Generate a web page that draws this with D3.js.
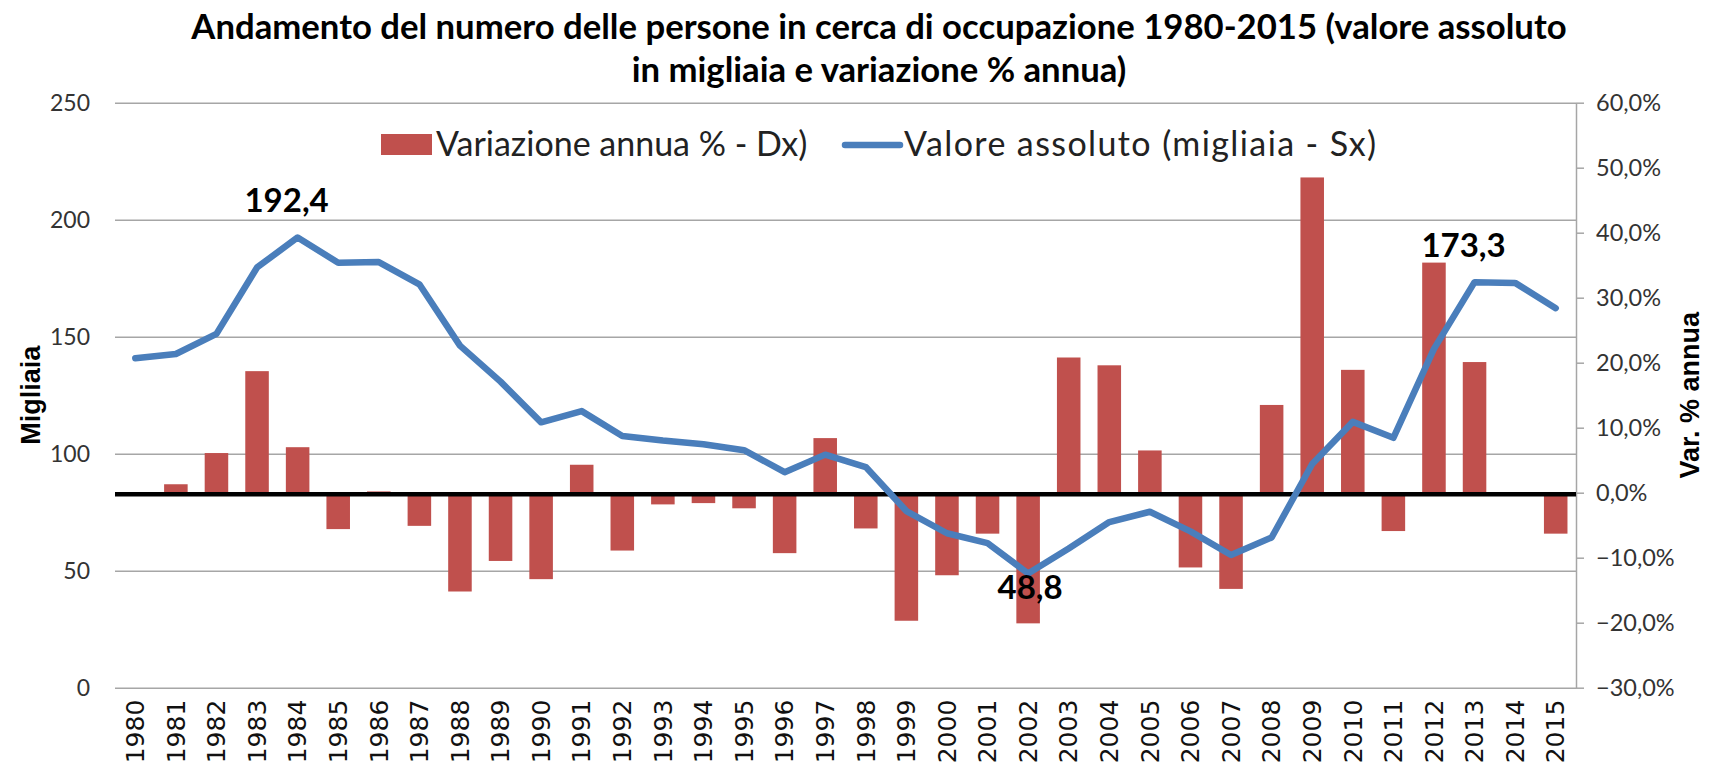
<!DOCTYPE html>
<html>
<head>
<meta charset="utf-8">
<script src="https://cdn.jsdelivr.net/npm/d3@7"></script>
<style>
  body { margin: 0; background: #fff; }
  svg { display: block; }
</style>
</head>
<body>
<svg id="chart" width="1716" height="772"></svg>
<script>
// data
const years = [1980, 1981, 1982, 1983, 1984, 1985, 1986, 1987, 1988, 1989,
    1990, 1991, 1992, 1993, 1994, 1995, 1996, 1997, 1998, 1999,
    2000, 2001, 2002, 2003, 2004, 2005, 2006, 2007, 2008, 2009,
    2010, 2011, 2012, 2013, 2014, 2015];

// valore assoluto, migliaia (asse Sx)
const valoreAssoluto = [140.8, 142.6, 151.2, 179.6, 192.4, 181.6, 181.9, 172.4, 146.2, 130.8,
    113.4, 118.2, 107.6, 105.6, 104.0, 101.5, 92.1, 99.6, 94.3, 75.5,
    66.0, 61.8, 48.8, 59.5, 70.8, 75.2, 66.8, 56.7, 64.2, 95.6,
    113.6, 106.8, 144.8, 173.3, 173.0, 162.2];

// variazione annua % (asse Dx)
const variazioneAnnua = [null, 1.3, 6.1, 18.7, 7.0, -5.6, 0.2, -5.1, -15.2, -10.5,
    -13.3, 4.3, -8.9, -1.8, -1.6, -2.4, -9.3, 8.4, -5.5, -19.7,
    -12.7, -6.3, -20.1, 20.8, 19.6, 6.5, -11.5, -14.8, 13.5, 48.5,
    18.9, -5.9, 35.4, 20.1, -0.3, -6.3];

const leftTicks = [0, 50, 100, 150, 200, 250];
const rightTicks = [-30, -20, -10, 0, 10, 20, 30, 40, 50, 60];

// highlighted values
const callouts = [
    { year: 1984, text: '192,4', pos: 'above' },
    { year: 2013, text: '173,3', pos: 'above' },
    { year: 2002, text: '48,8', pos: 'below' }
];

const titleLines = [
    'Andamento del numero delle persone in cerca di occupazione 1980-2015 (valore assoluto',
    'in migliaia e variazione % annua)'
];

const RED = '#C0504D';
const BLUE = '#4A7EBB';
const GRID = '#a6a6a6';
const SANS = 'Lato, "Open Sans", sans-serif';

const plot = { left: 115, right: 1576, top: 102.7, bottom: 687.7 };

const svg = d3.select('#chart');

const x = d3.scaleBand()
    .domain(years)
    .range([plot.left, plot.right])
    .paddingInner(0.42)
    .paddingOuter(0.21);

const yLeft = d3.scaleLinear().domain([0, 250]).range([plot.bottom, plot.top]);
const yRight = d3.scaleLinear().domain([-30, 60]).range([plot.bottom, plot.top]);

const cx = d => x(d) + x.bandwidth() / 2;

// gridlines from the left axis
const gridAxis = d3.axisLeft(yLeft)
    .tickValues(leftTicks)
    .tickSize(-(plot.right - plot.left))
    .tickPadding(25)
    .tickFormat(d3.format('d'));

const gridG = svg.append('g')
    .attr('transform', `translate(${plot.left},0)`)
    .call(gridAxis);
gridG.select('.domain').remove();
gridG.selectAll('.tick line')
    .attr('stroke', GRID)
    .attr('stroke-width', 1.5);
gridG.selectAll('.tick text')
    .attr('font-family', SANS)
    .attr('font-size', 23)
    .attr('fill', '#333');

// right axis (percent)
const fmtPct = d => d3.format('.1f')(d).replace('.', ',') + '%';
const rightAxis = d3.axisRight(yRight)
    .tickValues(rightTicks)
    .tickSize(8)
    .tickSizeOuter(0)
    .tickPadding(12)
    .tickFormat(fmtPct);

const rightG = svg.append('g')
    .attr('transform', `translate(${plot.right},0)`)
    .call(rightAxis);
rightG.select('.domain').attr('stroke', GRID).attr('stroke-width', 1.5);
rightG.selectAll('.tick line').attr('stroke', GRID).attr('stroke-width', 1.5);
rightG.selectAll('.tick text')
    .attr('font-family', SANS)
    .attr('font-size', 23.5)
    .attr('fill', '#333');

// year labels, rotated
const xAxis = d3.axisBottom(x).tickSize(0).tickPadding(0);
const xG = svg.append('g')
    .attr('transform', `translate(0,${plot.bottom})`)
    .call(xAxis);
xG.select('.domain').remove();
xG.selectAll('.tick text')
    .attr('font-family', '"DejaVu Sans", Verdana, sans-serif')
    .attr('font-size', 25)
    .attr('fill', '#111')
    .attr('transform', 'rotate(-90)')
    .attr('text-anchor', 'end')
    .attr('x', -12)
    .attr('y', 0)
    .attr('dy', '0.35em');

// bars
const barData = years.map((y, i) => ({ year: y, v: variazioneAnnua[i] }))
    .filter(d => d.v !== null);

svg.append('g')
    .selectAll('rect')
    .data(barData)
    .enter()
    .append('rect')
    .attr('x', d => x(d.year))
    .attr('width', x.bandwidth())
    .attr('y', d => yRight(Math.max(0, d.v)))
    .attr('height', d => Math.abs(yRight(d.v) - yRight(0)))
    .attr('fill', RED);

// zero line
svg.append('line')
    .attr('x1', plot.left)
    .attr('x2', plot.right)
    .attr('y1', yRight(0) + 1.5)
    .attr('y2', yRight(0) + 1.5)
    .attr('stroke', '#000')
    .attr('stroke-width', 4.5);

// value line
const lineData = years.map((y, i) => ({ year: y, v: valoreAssoluto[i] }));
const line = d3.line()
    .x(d => cx(d.year))
    .y(d => yLeft(d.v));

svg.append('path')
    .datum(lineData)
    .attr('d', line)
    .attr('fill', 'none')
    .attr('stroke', BLUE)
    .attr('stroke-width', 6.5)
    .attr('stroke-linejoin', 'round')
    .attr('stroke-linecap', 'round');

// callout labels
svg.append('g')
    .selectAll('text')
    .data(callouts)
    .enter()
    .append('text')
    .attr('x', d => cx(d.year) + (d.pos === 'above' ? -11 : 2))
    .attr('y', d => {
        const v = valoreAssoluto[years.indexOf(d.year)];
        return d.pos === 'above' ? yLeft(v) - 25 : yLeft(v) + 25;
    })
    .attr('text-anchor', 'middle')
    .attr('font-family', SANS)
    .attr('font-weight', 'bold')
    .attr('font-size', 33)
    .attr('fill', '#000')
    .text(d => d.text);

// title
svg.append('g')
    .selectAll('text')
    .data(titleLines)
    .enter()
    .append('text')
    .attr('x', 879)
    .attr('y', (d, i) => 39 + i * 43)
    .attr('text-anchor', 'middle')
    .attr('font-family', SANS)
    .attr('font-weight', 'bold')
    .attr('font-size', 34.7)
    .attr('fill', '#000')
    .text(d => d);

// axis titles
svg.append('text')
    .attr('transform', `translate(31,${(plot.top + plot.bottom) / 2}) rotate(-90)`)
    .attr('text-anchor', 'middle')
    .attr('dy', '0.35em')
    .attr('font-family', '"Liberation Sans", Arial, sans-serif')
    .attr('font-weight', 'bold')
    .attr('font-size', 27)
    .text('Migliaia');

svg.append('text')
    .attr('transform', `translate(1690,${(plot.top + plot.bottom) / 2}) rotate(-90)`)
    .attr('text-anchor', 'middle')
    .attr('dy', '0.35em')
    .attr('font-family', '"Liberation Sans", Arial, sans-serif')
    .attr('font-weight', 'bold')
    .attr('font-size', 27)
    .text('Var. % annua');

// legend
const legend = svg.append('g').attr('font-family', SANS).attr('font-size', 34).attr('fill', '#222');

legend.append('rect')
    .attr('x', 381)
    .attr('y', 134)
    .attr('width', 51)
    .attr('height', 21)
    .attr('fill', RED);
legend.append('text')
    .attr('x', 436)
    .attr('y', 156)
    .text('Variazione annua % - Dx)');

legend.append('line')
    .attr('x1', 845)
    .attr('x2', 900)
    .attr('y1', 145)
    .attr('y2', 145)
    .attr('stroke', BLUE)
    .attr('stroke-width', 6.5)
    .attr('stroke-linecap', 'round');
legend.append('text')
    .attr('x', 904)
    .attr('y', 156)
    .attr('letter-spacing', 1.4)
    .text('Valore assoluto (migliaia - Sx)');
</script>
</body>
</html>
